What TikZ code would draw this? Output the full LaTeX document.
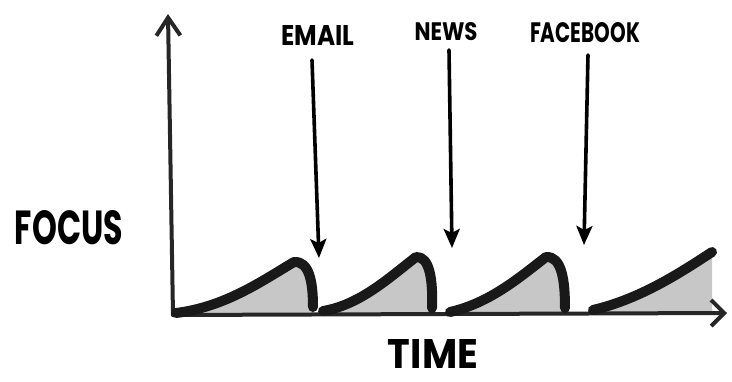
\documentclass[tikz,border=0pt]{standalone}
\usepackage{fontspec}
\setmainfont{Poppins}
\usepackage{graphicx}
\usetikzlibrary{arrows.meta}
\begin{document}
\begin{tikzpicture}[x=1pt,y=1pt,
  axis/.style={line width=4pt, black!85, line cap=round, line join=round},
  pointer/.style={line width=3.6pt, line cap=round, -{Stealth[length=19pt,width=16pt,inset=4pt]}},
  hump/.style={line width=10pt, line cap=round, line join=round, black!90},
  shade/.style={fill=black!22},
  lbl/.style={inner sep=0pt, font=\bfseries}]
\useasboundingbox (0,0) rectangle (732,381);
% shaded areas
\fill[shade] (175,68) .. controls (225,74) and (262,100) .. (294,119)
  .. controls (309,120) and (313,100) .. (313,68) -- cycle;
\fill[shade] (323,68) .. controls (360,76) and (390,104) .. (416,124)
  .. controls (430,125) and (433,100) .. (432,68) -- cycle;
\fill[shade] (450,68) .. controls (490,78) and (520,104) .. (546,124)
  .. controls (562,125) and (565,100) .. (565,68) -- cycle;
\fill[shade] (593,68) .. controls (640,82) and (680,108) .. (712,129) -- (712,68) -- cycle;
% axes
\coordinate (origin) at (173,66);
\coordinate (ytip) at (168,367);
\coordinate (xtip) at (727,68);
\draw[axis, -{Straight Barb[length=18pt,width=24pt]}] (origin) -- (ytip);
\draw[axis, -{Straight Barb[length=13pt,width=26pt]}] (origin) -- (xtip);
% humps
\draw[hump] (176,68) .. controls (225,74) and (262,100) .. (294,119)
  .. controls (309,120) and (313,100) .. (313,74);
\draw[hump] (323,70) .. controls (360,76) and (390,104) .. (416,124)
  .. controls (430,125) and (433,100) .. (432,73);
\draw[hump] (450,69) .. controls (490,78) and (520,104) .. (546,124)
  .. controls (562,125) and (565,100) .. (565,73);
\draw[hump] (593,71) .. controls (640,82) and (680,108) .. (712,129);
% labels
\node[lbl] (email) at (318,346) {\resizebox{73pt}{20pt}{EMAIL}};
\node[lbl] (news) at (446,349) {\resizebox{63pt}{18pt}{NEWS}};
\node[lbl] (facebook) at (585,348) {\resizebox{110pt}{20pt}{FACEBOOK}};
\node[lbl] (focus) at (69,153) {\resizebox{108pt}{34pt}{FOCUS}};
\node[lbl] (time) at (433,27) {\resizebox{90pt}{29pt}{TIME}};
% pointers
\coordinate (e1) at (312,321); \coordinate (e2) at (319,123);
\coordinate (n1) at (449,331); \coordinate (n2) at (452,133);
\coordinate (f1) at (588,326); \coordinate (f2) at (584,136);
\draw[pointer] (e1) -- (e2);
\draw[pointer] (n1) -- (n2);
\draw[pointer] (f1) -- (f2);
\end{tikzpicture}
\end{document}
